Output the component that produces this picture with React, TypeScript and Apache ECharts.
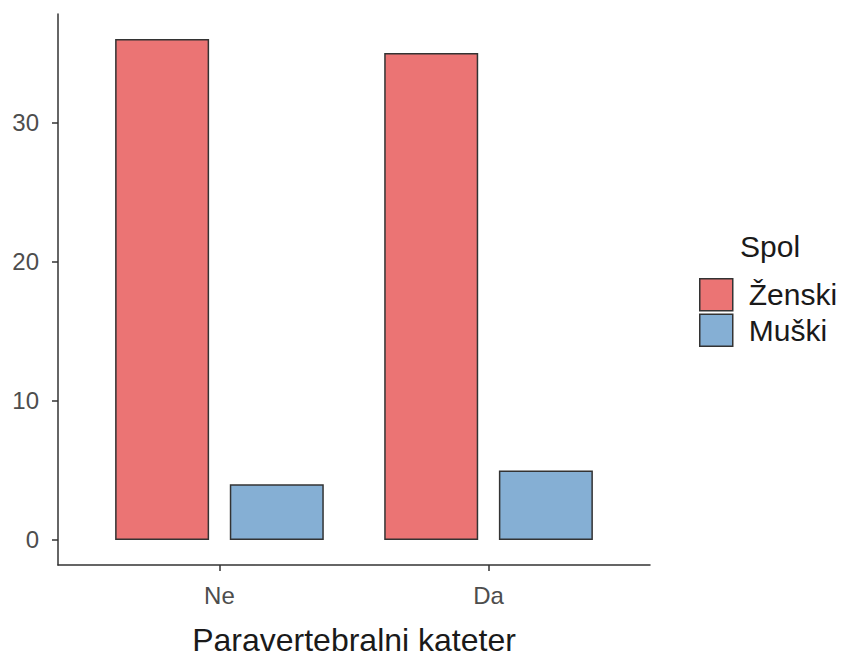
import React, { useEffect, useRef } from "react";
import * as echarts from "echarts";

const categories = ["Ne", "Da"];
const categoryPositions = [1, 2];
const zenski = [36, 35];
const muski = [4, 5];
const yTicks = [0, 10, 20, 30];
const seriesNames = ["Ženski", "Muški"];

export default function App() {
  const ref = useRef<HTMLDivElement>(null);
  useEffect(() => {
    if (!ref.current) return;
    const chart = echarts.init(ref.current, undefined, { renderer: "svg" });
    const font = "'Liberation Sans', Arial, sans-serif";
    const mk = (vals: number[]) => vals.map((v, i) => [categoryPositions[i], v]);
    chart.setOption({
      animation: false,
      backgroundColor: "#ffffff",
      grid: { left: 58, right: 196, top: 14, bottom: 92, containLabel: false, outerBoundsMode: "none" },
      title: {
        text: "Spol",
        left: 735,
        top: 226,
        textStyle: { fontFamily: font, fontSize: 30, fontWeight: "normal", color: "#1a1a1a" },
      },
      legend: {
        orient: "vertical",
        left: 694,
        top: 273,
        itemWidth: 33,
        itemHeight: 32,
        itemGap: 2,
        icon: "rect",
        data: seriesNames,
        textStyle: { fontFamily: font, fontSize: 30, color: "#1a1a1a", padding: [0, 0, 0, 11] },
        itemStyle: { borderColor: "#333333", borderWidth: 1.5 },
      },
      xAxis: {
        type: "value",
        min: 0.4,
        max: 2.6,
        name: "Paravertebralni kateter",
        nameLocation: "middle",
        nameGap: 59,
        nameTextStyle: { fontFamily: font, fontSize: 32, lineHeight: 32, color: "#1a1a1a" },
        splitLine: { show: false },
        axisLine: { show: true, onZero: false, lineStyle: { color: "#333333", width: 1.5 } },
        axisTick: { show: true, customValues: categoryPositions, length: 6, lineStyle: { color: "#333333", width: 1.5 } },
        axisLabel: {
          customValues: categoryPositions,
          formatter: (v: number) => categories[categoryPositions.indexOf(v)] ?? "",
          fontFamily: font,
          fontSize: 24,
          color: "#4d4d4d",
          margin: 18,
        },
      },
      yAxis: {
        type: "value",
        min: -1.8,
        max: 37.8,
        splitLine: { show: false },
        axisLine: { show: true, onZero: false, lineStyle: { color: "#333333", width: 1.5 } },
        axisTick: { show: true, customValues: yTicks, length: 6, lineStyle: { color: "#333333", width: 1.5 } },
        axisLabel: {
          customValues: yTicks,
          fontFamily: font,
          fontSize: 24,
          color: "#4d4d4d",
          margin: 19,
        },
      },
      series: [
        {
          name: seriesNames[0],
          type: "bar",
          data: mk(zenski),
          barWidth: 94,
          barGap: "22%",
          itemStyle: { color: "#eb7474", borderColor: "#333333", borderWidth: 1.5 },
        },
        {
          name: seriesNames[1],
          type: "bar",
          data: mk(muski),
          barWidth: 94,
          barGap: "22%",
          itemStyle: { color: "#85afd4", borderColor: "#333333", borderWidth: 1.5 },
        },
      ],
    });
    return () => chart.dispose();
  }, []);
  return (
    <div
      ref={ref}
      style={{ position: "fixed", left: 0, top: 0, width: 846, height: 657 }}
    />
  );
}
